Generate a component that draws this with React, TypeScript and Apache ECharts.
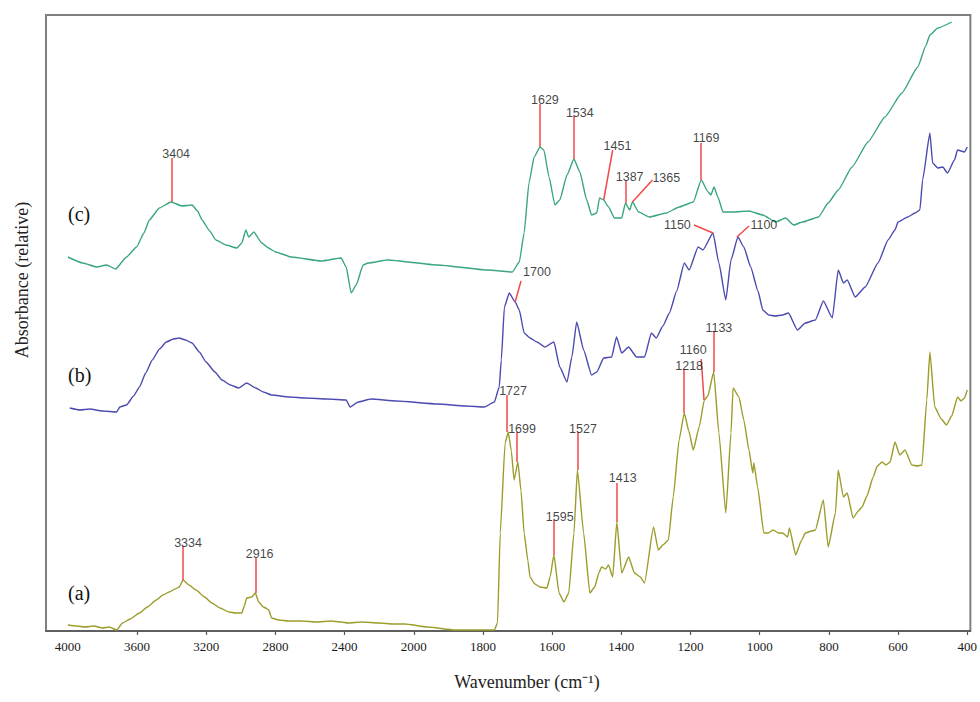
import React, { useEffect, useRef } from "react";
import * as echarts from "echarts";

// Tick labels (cm-1)
const labelWavenumbers = [4000, 3600, 3200, 2800, 2400, 2000, 1800, 1600, 1400, 1200, 1000, 800, 600, 400];
const tickWavenumbers = [3600, 3200, 2800, 2400, 2000, 1800, 1600, 1400, 1200, 1000, 800, 600, 400];

// Spectrum (a) [wavenumber, relative absorbance]
const specA: [number, number][] = [
  [4000, 0.06], [3950, 0.05], [3900, 0.04], [3850, 0.05], [3800, 0.03], [3760, 0.04], [3718, 0.01], [3684, 0.08],
  [3640, 0.12], [3586, 0.18], [3540, 0.24], [3489, 0.31], [3450, 0.36], [3414, 0.39], [3380, 0.42], [3356, 0.44],
  [3334, 0.51], [3300, 0.46], [3259, 0.41], [3210, 0.34], [3167, 0.28], [3120, 0.23], [3069, 0.19], [3030, 0.18],
  [2994, 0.18], [2980, 0.25], [2966, 0.33], [2937, 0.34], [2916, 0.38], [2897, 0.29], [2870, 0.24], [2856, 0.23],
  [2839, 0.21], [2822, 0.13], [2780, 0.11], [2724, 0.10], [2650, 0.10], [2560, 0.09], [2480, 0.1], [2420, 0.09],
  [2380, 0.08], [2300, 0.09], [2200, 0.08], [2120, 0.07], [2052, 0.07], [1960, 0.04], [1882, 0.01], [1820, 0.01],
  [1767, 0.01], [1758, 0.08], [1750, 0.98], [1736, 1.88], [1727, 1.99], [1718, 1.8], [1710, 1.51], [1699, 1.69],
  [1690, 1.4], [1681, 0.98], [1670, 0.7], [1664, 0.54], [1650, 0.47], [1635, 0.44], [1615, 0.43], [1606, 0.54],
  [1595, 0.76], [1580, 0.38], [1566, 0.29], [1552, 0.38], [1537, 0.98], [1527, 1.61], [1509, 0.98], [1491, 0.38],
  [1477, 0.44], [1465, 0.58], [1457, 0.64], [1445, 0.62], [1437, 0.66], [1425, 0.54], [1413, 1.09], [1399, 0.58],
  [1379, 0.74], [1362, 0.58], [1345, 0.54], [1333, 0.48], [1307, 1.04], [1293, 0.81], [1280, 0.86], [1264, 0.91],
  [1250, 1.34], [1233, 1.91], [1218, 2.18], [1205, 2.0], [1192, 1.81], [1175, 2.04], [1160, 2.31], [1150, 2.35],
  [1133, 2.59], [1118, 1.98], [1098, 1.18], [1083, 1.98], [1077, 2.43], [1060, 2.34], [1046, 2.11], [1031, 1.81],
  [1020, 1.58], [1017, 1.68], [1006, 1.44], [988, 0.98], [975, 0.98], [962, 1.01], [945, 0.98], [934, 0.98],
  [919, 0.94], [914, 1.03], [896, 0.76], [880, 0.9], [868, 0.98], [850, 1.0], [839, 1.01], [816, 1.31], [802, 0.84],
  [781, 1.18], [773, 1.61], [758, 1.34], [747, 1.38], [730, 1.13], [715, 1.2], [704, 1.24], [690, 1.35], [672, 1.54],
  [660, 1.65], [646, 1.69], [635, 1.66], [623, 1.69], [609, 1.89], [595, 1.76], [580, 1.81], [560, 1.66],
  [545, 1.65], [531, 1.66], [517, 2.31], [508, 2.79], [494, 2.24], [475, 2.12], [460, 2.06], [445, 2.15],
  [428, 2.34], [418, 2.3], [408, 2.33], [400, 2.41],
];

// Spectrum (b)
const specB: [number, number][] = [
  [3989, 2.23], [3930, 2.21], [3874, 2.22], [3800, 2.2], [3718, 2.19], [3700, 2.24], [3661, 2.26], [3620, 2.35],
  [3586, 2.44], [3550, 2.58], [3512, 2.71], [3470, 2.82], [3431, 2.89], [3390, 2.92], [3356, 2.93], [3320, 2.91],
  [3282, 2.88], [3240, 2.79], [3201, 2.69], [3150, 2.59], [3109, 2.51], [3060, 2.46], [3012, 2.43], [2966, 2.48],
  [2914, 2.43], [2870, 2.39], [2822, 2.36], [2720, 2.34], [2626, 2.33], [2500, 2.32], [2391, 2.31], [2368, 2.24],
  [2322, 2.29], [2247, 2.32], [2100, 2.3], [1931, 2.27], [1850, 2.25], [1796, 2.24], [1767, 2.29], [1753, 2.44],
  [1747, 2.71], [1738, 3.24], [1724, 3.38], [1707, 3.29], [1695, 3.21], [1681, 2.98], [1664, 2.93], [1644, 2.89],
  [1621, 2.84], [1595, 2.89], [1578, 2.64], [1557, 2.49], [1543, 2.74], [1529, 3.09], [1509, 2.81], [1486, 2.56],
  [1471, 2.59], [1451, 2.73], [1428, 2.74], [1414, 2.94], [1399, 2.78], [1379, 2.84], [1356, 2.74], [1333, 2.74],
  [1313, 2.98], [1299, 2.93], [1280, 3.05], [1261, 3.18], [1240, 3.4], [1218, 3.68], [1204, 3.61], [1178, 3.84],
  [1164, 3.81], [1135, 3.98], [1118, 3.68], [1098, 3.31], [1083, 3.71], [1063, 3.94], [1046, 3.84], [1026, 3.64],
  [1005, 3.4], [991, 3.21], [974, 3.16], [955, 3.15], [934, 3.16], [917, 3.18], [891, 3.01], [868, 3.08],
  [839, 3.11], [816, 3.3], [790, 3.13], [773, 3.61], [758, 3.48], [747, 3.51], [724, 3.34], [695, 3.44],
  [658, 3.68], [629, 3.91], [609, 4.01], [600, 4.09], [572, 4.14], [551, 4.18], [537, 4.21], [529, 4.51],
  [508, 4.98], [500, 4.68], [485, 4.63], [471, 4.64], [457, 4.58], [437, 4.71], [428, 4.81], [408, 4.79],
  [400, 4.84],
];

// Spectrum (c)
const specC: [number, number][] = [
  [4000, 3.74], [3914, 3.68], [3833, 3.64], [3776, 3.66], [3724, 3.62], [3661, 3.74], [3603, 3.84], [3560, 3.98],
  [3529, 4.11], [3471, 4.23], [3404, 4.29], [3339, 4.25], [3282, 4.26], [3250, 4.2], [3224, 4.11], [3180, 4.0],
  [3144, 3.91], [3086, 3.86], [3023, 3.83], [2994, 3.88], [2971, 4.01], [2954, 3.94], [2925, 3.99], [2879, 3.88],
  [2840, 3.83], [2799, 3.79], [2707, 3.74], [2535, 3.7], [2420, 3.73], [2391, 3.64], [2362, 3.38], [2333, 3.46],
  [2293, 3.66], [2264, 3.68], [2150, 3.71], [1931, 3.66], [1787, 3.61], [1715, 3.59], [1695, 3.69], [1681, 3.98],
  [1667, 4.48], [1652, 4.74], [1635, 4.84], [1624, 4.81], [1609, 4.54], [1592, 4.26], [1578, 4.31], [1557, 4.56],
  [1537, 4.72], [1520, 4.59], [1500, 4.31], [1486, 4.16], [1471, 4.18], [1463, 4.33], [1451, 4.31], [1437, 4.24],
  [1420, 4.13], [1399, 4.13], [1388, 4.28], [1376, 4.21], [1368, 4.29], [1350, 4.19], [1319, 4.14], [1270, 4.18],
  [1233, 4.24], [1192, 4.29], [1169, 4.51], [1149, 4.39], [1141, 4.36], [1132, 4.44], [1121, 4.34], [1106, 4.19],
  [1077, 4.19], [1031, 4.2], [991, 4.16], [954, 4.09], [925, 4.13], [902, 4.06], [876, 4.09], [830, 4.14],
  [802, 4.28], [773, 4.41], [733, 4.64], [687, 4.89], [638, 5.14], [589, 5.38], [543, 5.64], [520, 5.85],
  [508, 5.96], [485, 6.03], [445, 6.09],
];

// Peak annotations: [text, peakW, peakV, tipW, tipV, labelW, labelV]
const peakNotes: [string, number, number, number, number, number, number][] = [
  ["3404", 3402, 4.29, 3402, 4.73, 3374, 4.77],
  ["1629", 1635, 4.84, 1635, 5.27, 1621, 5.31],
  ["1534", 1537, 4.72, 1537, 5.15, 1520, 5.18],
  ["1451", 1451, 4.31, 1425, 4.81, 1411, 4.85],
  ["1387", 1388, 4.28, 1388, 4.5, 1376, 4.54],
  ["1365", 1368, 4.29, 1310, 4.51, 1270, 4.53],
  ["1169", 1169, 4.51, 1169, 4.88, 1155, 4.93],
  ["1700", 1707, 3.29, 1690, 3.5, 1644, 3.59],
  ["1150", 1135, 3.98, 1190, 4.06, 1238, 4.06],
  ["1100", 1066, 3.94, 1031, 4.05, 988, 4.06],
  ["3334", 3334, 0.51, 3334, 0.85, 3305, 0.88],
  ["2916", 2916, 0.38, 2916, 0.73, 2891, 0.77],
  ["1727", 1730, 1.99, 1730, 2.36, 1713, 2.4],
  ["1699", 1701, 1.69, 1701, 1.99, 1687, 2.02],
  ["1595", 1595, 0.76, 1595, 1.11, 1578, 1.14],
  ["1527", 1527, 1.61, 1527, 1.99, 1511, 2.02],
  ["1413", 1413, 1.09, 1413, 1.48, 1396, 1.53],
  ["1218", 1221, 2.18, 1221, 2.62, 1204, 2.65],
  ["1160", 1161, 2.31, 1169, 2.72, 1192, 2.81],
  ["1133", 1132, 2.59, 1132, 3.0, 1118, 3.03],
];

const seriesNames = ["(a)", "(b)", "(c)"];

// Piecewise axis: 4000-2000 compressed by half relative to 2000-400
function toU(w: number): number {
  return w >= 2000 ? (4000 - w) / 2 : 1000 + (2000 - w);
}
function toW(u: number): number {
  return u <= 1000 ? 4000 - 2 * u : 3000 - u;
}

const COLORS = { a: "#9c9c2a", b: "#4a4ab0", c: "#3aa67c", red: "#f04a4a" };
const SERIF = "'Liberation Serif', 'Times New Roman', serif";

export default function App() {
  const ref = useRef<HTMLDivElement>(null);
  useEffect(() => {
    if (!ref.current) return;
    const chart = echarts.init(ref.current, undefined, { renderer: "svg" });
    const mk = (d: [number, number][]) => d.map(([w, v]) => [toU(w), v]);
    const lineSeries = (name: string, data: [number, number][], color: string) => ({
      name,
      type: "line",
      data: mk(data),
      showSymbol: false,
      symbol: "none",
      smooth: 0.15,
      smoothMonotone: "x",
      lineStyle: { color, width: 1.4 },
      silent: true,
      z: 2,
    });
    const option: any = {
      animation: false,
      backgroundColor: "#ffffff",
      grid: {
        left: 46,
        top: 15,
        width: 930,
        height: 616,
        show: true,
        borderColor: "#7f7f7f",
        borderWidth: 2,
        backgroundColor: "transparent",
      },
      xAxis: {
        type: "value",
        min: toU(4000) - 63.2,
        max: toU(400) + 9,
        axisLine: { show: true, lineStyle: { color: "#555555", width: 1.5 } },
        axisTick: {
          show: true,
          length: 4,
          inside: false,
          lineStyle: { color: "#555555", width: 1.2 },
          customValues: tickWavenumbers.map(toU),
        },
        axisLabel: {
          show: true,
          margin: 9,
          color: "#1a1a1a",
          fontFamily: SERIF,
          fontSize: 13,
          customValues: labelWavenumbers.map(toU),
          formatter: (u: number) => String(Math.round(toW(u))),
        },
        splitLine: { show: false },
      },
      yAxis: {
        type: "value",
        min: 0,
        max: 6.16,
        show: false,
        splitLine: { show: false },
      },
      series: [
        lineSeries("(a)", specA, COLORS.a),
        lineSeries("(b)", specB, COLORS.b),
        lineSeries("(c)", specC, COLORS.c),
        {
          type: "lines",
          coordinateSystem: "cartesian2d",
          silent: true,
          z: 3,
          lineStyle: { color: COLORS.red, width: 1.5, opacity: 1 },
          data: peakNotes.map((n) => ({ coords: [[toU(n[1]), n[2]], [toU(n[3]), n[4]]] })),
        },
        {
          type: "scatter",
          symbolSize: 0,
          silent: true,
          z: 4,
          data: peakNotes.map((n) => [toU(n[5]), n[6], n[0]]),
          label: {
            show: true,
            position: "inside",
            formatter: (p: any) => p.data[2],
            color: "#111111",
            fontFamily: "'Liberation Sans', Arial, sans-serif",
            fontSize: 12.5,
          },
        },
      ],
      graphic: [
        { type: "text", left: 68, top: 204, style: { text: seriesNames[2], font: "20px 'Liberation Serif'", fill: "#111" } },
        { type: "text", left: 68, top: 365, style: { text: seriesNames[1], font: "20px 'Liberation Serif'", fill: "#111" } },
        { type: "text", left: 68, top: 583, style: { text: seriesNames[0], font: "20px 'Liberation Serif'", fill: "#111" } },
        {
          type: "text",
          x: 527,
          y: 682,
          style: {
            text: "Wavenumber (cm⁻¹)",
            font: "18px 'Liberation Serif'",
            fill: "#222",
            align: "center",
            verticalAlign: "middle",
          },
        },
        {
          type: "text",
          x: 22,
          y: 280,
          rotation: Math.PI / 2,
          style: {
            text: "Absorbance (relative)",
            font: "18px 'Liberation Serif'",
            fill: "#222",
            align: "center",
            verticalAlign: "middle",
          },
        },
      ],
    };
    chart.setOption(option);
    return () => chart.dispose();
  }, []);
  return (
    <div
      ref={ref}
      style={{ position: "fixed", left: 0, top: 0, width: 980, height: 702, background: "#fff" }}
    />
  );
}
